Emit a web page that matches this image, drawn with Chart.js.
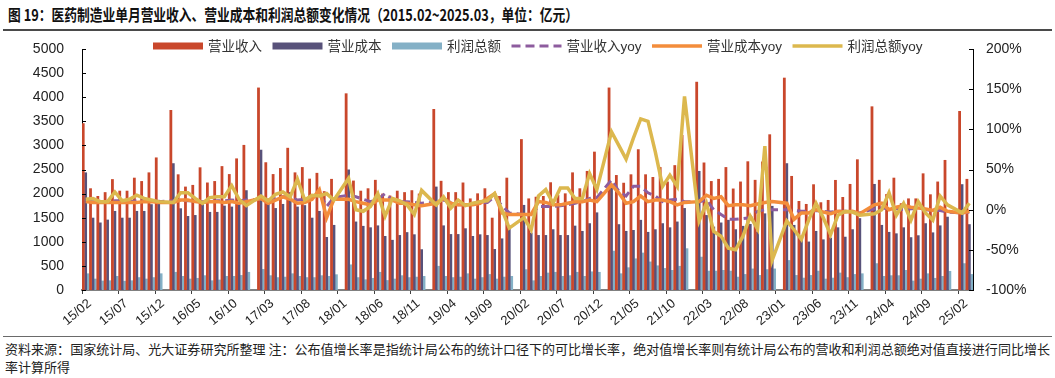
<!DOCTYPE html>
<html><head><meta charset="utf-8">
<script src="https://cdn.jsdelivr.net/npm/chart.js@4.4.1/dist/chart.umd.min.js"></script>
<style>
html,body{margin:0;padding:0;background:#fff;width:1055px;height:378px;overflow:hidden;}
#title{position:absolute;left:8px;top:3px;font-weight:bold;font-size:16px;font-family:"Noto Sans CJK SC",sans-serif;color:#111;white-space:nowrap;transform-origin:0 0;line-height:22px;}
#rule1{position:absolute;left:3px;top:29px;width:1049px;height:2px;background:#4a4a4a;}
#wrap{position:absolute;left:0;top:32px;width:1055px;height:303px;}
#rule2{position:absolute;left:3px;top:336px;width:1049px;height:1px;background:#6a6a6a;}
.note{position:absolute;left:5px;font-size:13px;font-family:"Noto Sans CJK SC",sans-serif;color:#222;white-space:nowrap;transform-origin:0 0;line-height:18px;}
</style></head>
<body>
<div id="title">图 19：医药制造业单月营业收入、营业成本和利润总额变化情况（2015.02~2025.03，单位：亿元）</div>
<div id="rule1"></div>
<div id="wrap"><canvas id="c" width="1055" height="303"></canvas></div>
<div id="rule2"></div>
<div class="note" id="note1" style="top:340px">资料来源：国家统计局、光大证券研究所整理 注：公布值增长率是指统计局公布的统计口径下的可比增长率，绝对值增长率则有统计局公布的营收和利润总额绝对值直接进行同比增长</div>
<div class="note" id="note2" style="top:358px">率计算所得</div>
<script>
const months = ['15/02','15/03','15/04','15/05','15/06','15/07','15/08','15/09','15/10','15/11','15/12',
'16/01','16/02','16/03','16/04','16/05','16/06','16/07','16/08','16/09','16/10','16/11','16/12',
'17/01','17/02','17/03','17/04','17/05','17/06','17/07','17/08','17/09','17/10','17/11','17/12',
'18/01','18/02','18/03','18/04','18/05','18/06','18/07','18/08','18/09','18/10','18/11','18/12',
'19/01','19/02','19/03','19/04','19/05','19/06','19/07','19/08','19/09','19/10','19/11','19/12',
'20/01','20/02','20/03','20/04','20/05','20/06','20/07','20/08','20/09','20/10','20/11','20/12',
'21/01','21/02','21/03','21/04','21/05','21/06','21/07','21/08','21/09','21/10','21/11','21/12',
'22/01','22/02','22/03','22/04','22/05','22/06','22/07','22/08','22/09','22/10','22/11','22/12',
'23/01','23/02','23/03','23/04','23/05','23/06','23/07','23/08','23/09','23/10','23/11','23/12',
'24/01','24/02','24/03','24/04','24/05','24/06','24/07','24/08','24/09','24/10','24/11','24/12',
'25/01','25/02','25/03'];

const revenue = [3460,2110,1950,2030,2300,2060,2060,2330,2260,2440,2750,
null,3735,2400,2145,2180,2545,2230,2260,2570,2405,2730,3010,
null,4200,2650,2405,2530,2950,2440,2550,2310,2430,2050,2305,
null,4080,2270,2060,2110,2285,2000,1960,2060,2030,2070,2000,
null,3755,2265,2030,2030,2230,1900,2005,2110,1500,1950,2330,
null,3130,1900,1935,1950,2235,1970,2005,2440,2110,2470,2870,
null,4200,2385,2225,2400,2920,2400,2345,2550,2250,2590,3215,
null,4320,2645,2260,2305,2550,2105,2250,2670,2285,2665,3230,
null,4405,2366,1847,1785,2193,1820,1868,2283,1930,2200,2711,
null,3810,2285,1990,2330,1800,1900,1900,2420,1985,2250,2698,
null,3714,2305];

const cost = [2440,1500,1400,1460,1640,1500,1500,1640,1640,1780,1870,
null,2630,1695,1535,1555,1780,1620,1620,1750,1730,1780,2070,
null,2910,1800,1700,1785,2030,1730,1760,1500,1640,1100,1350,
null,2500,1420,1330,1300,1340,1120,1040,1140,1200,1155,845,
null,2145,1340,1160,1160,1280,1120,1155,1140,850,1070,1265,
null,1765,1190,1140,1140,1260,1140,1140,1335,1225,1385,1610,
null,2145,1365,1225,1245,1455,1205,1260,1385,1300,1420,1700,
null,2470,1555,1315,1400,1455,1260,1330,1370,1210,1590,1745,
null,2630,1350,1070,1005,1225,1050,1085,1300,1105,1260,1490,
null,2200,1350,1205,1175,1300,1095,1135,1385,1195,1340,1520,
null,2195,1365];

const profit = [345,235,195,200,290,190,200,265,235,265,345,
null,375,290,235,250,305,200,215,290,290,310,375,
null,435,305,265,275,345,290,265,265,305,290,325,
null,530,265,220,250,375,205,235,305,265,275,290,
null,500,290,265,275,345,235,265,330,235,275,290,
null,430,200,290,360,375,290,305,375,290,385,375,
null,815,345,470,655,775,590,510,455,415,500,865,
null,690,400,400,415,400,275,330,445,310,430,445,
null,620,310,255,310,400,235,255,360,265,330,345,
null,555,290,305,305,415,195,235,345,250,290,395,
null,555,330];

const revenueYoy = [11,10,10,10,11,11,10,11,11,11,10,
null,11,12,11,11,10,10,11,11,12,11,12,
null,13,12,14,16,16,12,13,15,20,4,15,
null,18,16,13,10,13,20,12,10,10,9,8,
null,9,12,9,6,6,7,8,9,16,5,-4,
null,-6,-6,4,4,4,5,6,8,10,14,15,
null,37,23,17,29,29,21,17,10,12,13,10,
null,10,12,0,-6,-12,-12,-11,-10,-2,0,0,
null,0,-1,-2,-2,-1,-2,-3,-2,-2,-3,-4,
null,1,2,1,1,0,1,1,0,-1,-1,-3,
null,-4,-3];

const costYoy = [10,9,9,9,9,9,9,9,10,10,9,
null,9,12,12,10,9,10,10,9,10,8,10,
null,14,8,12,16,13,8,9,13,25,-10,13,
null,13,10,8,6,12,12,12,8,8,6,5,
null,8,14,8,6,6,6,8,14,20,-4,-6,
null,-6,-6,10,9,6,6,8,10,10,12,10,
null,31,21,8,10,17,10,12,12,10,6,9,
null,10,18,14,16,5,6,6,5,7,9,10,
null,8,-12,-4,-4,0,-3,-5,-2,-3,-2,-5,
null,6,8,0,3,5,3,2,1,-1,3,-2,
null,-4,-2];

const profitYoy = [13,14,10,10,22,11,13,18,14,12,10,
null,9,21,21,14,8,15,16,16,30,13,5,
null,17,11,19,22,16,38,12,18,17,20,12,
null,39,0,-2,4,20,-8,14,11,6,-6,24,
null,6,16,2,12,5,8,10,11,20,0,-23,
null,-10,-25,17,25,8,27,27,14,14,45,25,
null,97,80,63,89,113,110,72,29,43,29,141,
null,-14,8,-27,-33,-48,-50,-33,-8,-24,79,-63,
null,-14,-25,-37,-13,8,-10,-31,-7,-2,-3,-7,
null,-5,0,21,-7,8,-13,10,-4,-13,17,6,
null,-4,8];

const leftTicks = [0,500,1000,1500,2000,2500,3000,3500,4000,4500,5000];
const rightTicks = [-100,-50,0,50,100,150,200];

const C_REV = '#C9472B', C_COST = '#58527A', C_PROF = '#84B0C6';
const C_REVY = '#8D5C9E', C_COSTY = '#F38D3B', C_PROFY = '#DCB84E';
const NUMFONT = '"Liberation Sans", Arial, sans-serif';
const CJKFONT = '"Liberation Sans", "Noto Sans CJK SC", sans-serif';

const decor = {
  id: 'decor',
  afterDraw(chart) {
    const {ctx, chartArea: a, scales} = chart;
    ctx.save();
    ctx.strokeStyle = '#000'; ctx.lineWidth = 1;
    leftTicks.forEach(v => {
      const y = Math.round(scales.y.getPixelForValue(v)) + 0.5;
      ctx.beginPath(); ctx.moveTo(a.left, y); ctx.lineTo(a.left + 4, y); ctx.stroke();
    });
    rightTicks.forEach(v => {
      const y = Math.round(scales.y1.getPixelForValue(v)) + 0.5;
      ctx.beginPath(); ctx.moveTo(a.right - 4, y); ctx.lineTo(a.right, y); ctx.stroke();
    });
    // legend
    const ds = chart.data.datasets;
    ctx.font = '13.5px ' + CJKFONT;
    ctx.textBaseline = 'middle';
    let x = 153; const y = 14;
    ds.forEach(d => {
      if (d.type === 'bar') {
        ctx.fillStyle = d.backgroundColor;
        ctx.fillRect(x, y - 3.5, 50, 7);
      } else {
        ctx.strokeStyle = d.borderColor; ctx.lineWidth = d.borderWidth;
        ctx.setLineDash(d.borderDash || []);
        ctx.beginPath(); ctx.moveTo(x, y); ctx.lineTo(x + 50, y); ctx.stroke();
        ctx.setLineDash([]);
      }
      ctx.fillStyle = '#333';
      ctx.fillText(d.label, x + 55, y + 1);
      x += 55 + ctx.measureText(d.label).width + 10.5;
    });
    ctx.restore();
  }
};

function noPad(s) { s.paddingTop = 0; s.paddingBottom = 0; s.paddingLeft = 0; s.paddingRight = 0; }

new Chart(document.getElementById('c'), {
  type: 'bar',
  data: {
    labels: months,
    datasets: [
      {type:'bar', label:'营业收入', data: revenue, backgroundColor: C_REV, yAxisID:'y', order:10, categoryPercentage:1, barPercentage:1.15},
      {type:'bar', label:'营业成本', data: cost, backgroundColor: C_COST, yAxisID:'y', order:11, categoryPercentage:1, barPercentage:1.15},
      {type:'bar', label:'利润总额', data: profit, backgroundColor: C_PROF, yAxisID:'y', order:12, categoryPercentage:1, barPercentage:1.15},
      {type:'line', label:'营业收入yoy', data: revenueYoy, borderColor: C_REVY, borderWidth:3, borderDash:[9,5], pointRadius:0, yAxisID:'y1', order:2, spanGaps:true, tension:0},
      {type:'line', label:'营业成本yoy', data: costYoy, borderColor: C_COSTY, borderWidth:3.5, pointRadius:0, yAxisID:'y1', order:1, spanGaps:true, tension:0},
      {type:'line', label:'利润总额yoy', data: profitYoy, borderColor: C_PROFY, borderWidth:3.5, pointRadius:0, yAxisID:'y1', order:0, spanGaps:true, tension:0}
    ]
  },
  options: {
    responsive: false,
    animation: false,
    devicePixelRatio: 1,
    layout: {padding: {top: 17, left: 0, right: 0, bottom: 0}},
    plugins: {legend: {display: false}, tooltip: {enabled: false}},
    scales: {
      x: {
        offset: true,
        grid: {display: true, drawOnChartArea: false, drawTicks: true, tickLength: 4, offset: true,
               color: c => (c.index % 5 === 0 ? '#404040' : 'rgba(0,0,0,0)')},
        border: {display: true, color: '#808080', width: 2},
        ticks: {autoSkip: false, maxRotation: 40, minRotation: 40, padding: 2, labelOffset: 4, color: '#222',
                font: {family: NUMFONT, size: 13},
                callback: function(v, i) { return i % 5 === 0 ? months[i] : ''; }},
        afterFit: s => { s.height = 45; noPad(s); }
      },
      y: {
        position: 'left', min: 0, max: 5000,
        afterBuildTicks: s => { s.ticks = leftTicks.map(v => ({value: v})); },
        ticks: {padding: 18, color: '#222', font: {family: NUMFONT, size: 14}, callback: v => String(v)},
        grid: {display: false, drawTicks: false},
        border: {display: true, color: '#000', width: 1},
        afterFit: s => { s.width = 82; noPad(s); }
      },
      y1: {
        position: 'right', min: -100, max: 200,
        afterBuildTicks: s => { s.ticks = rightTicks.map(v => ({value: v})); },
        ticks: {padding: 13, color: '#222', font: {family: NUMFONT, size: 14}, callback: v => v + '%'},
        grid: {display: false, drawTicks: false},
        border: {display: true, color: '#000', width: 1},
        afterFit: s => { s.width = 82; noPad(s); }
      }
    }
  },
  plugins: [decor]
});

function fit(id, w) {
  const el = document.getElementById(id);
  const cw = el.getBoundingClientRect().width;
  if (cw > 0) el.style.transform = 'scaleX(' + (w / cw) + ')';
}
fit('title', 570);
fit('note1', 1045);
</script>
</body></html>
